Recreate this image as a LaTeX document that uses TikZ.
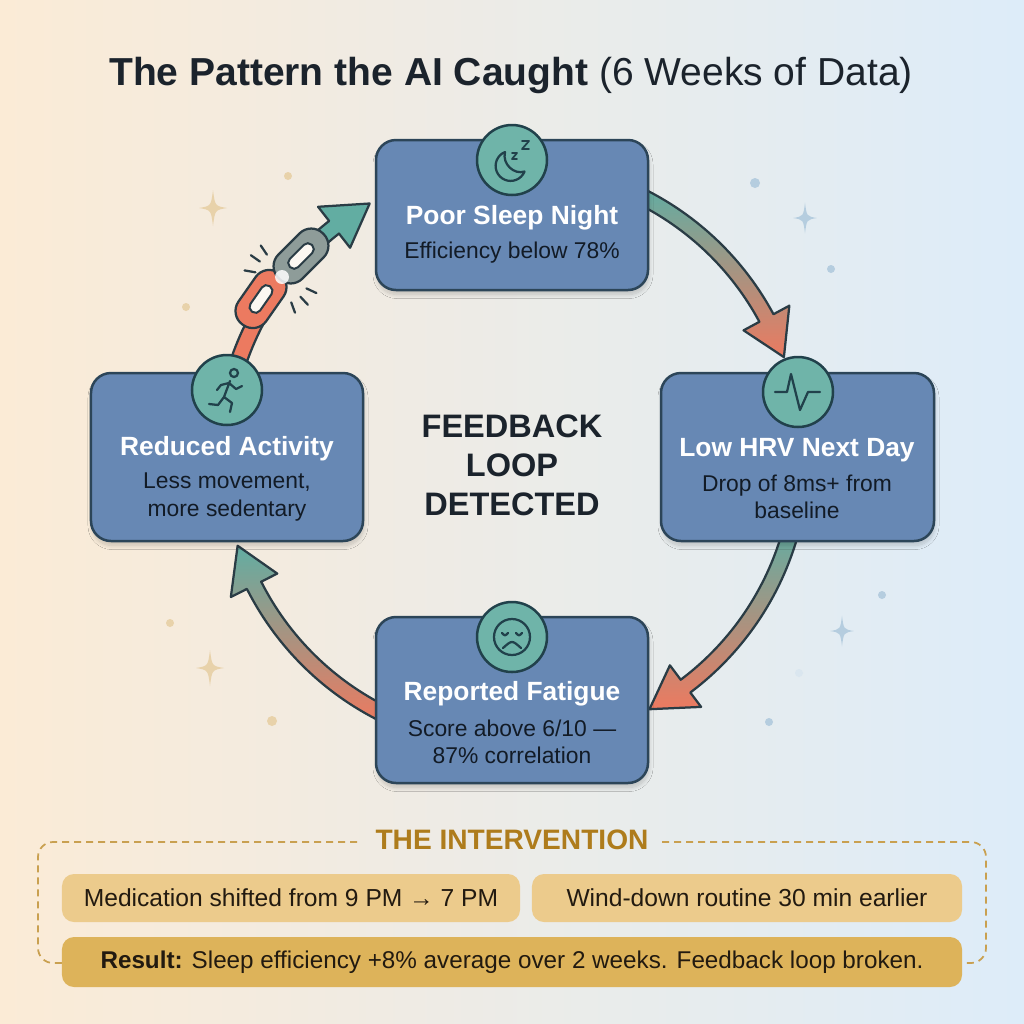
\documentclass[tikz,border=0pt]{standalone}
\usepackage{fontspec}
\setmainfont{Liberation Sans}
\usetikzlibrary{positioning,shadows.blur}

\definecolor{bgwarm}{HTML}{FBEBD6}
\definecolor{bgmid}{HTML}{F2F3EF}
\definecolor{bgcool}{HTML}{DDECF9}
\definecolor{inkdark}{HTML}{1B232C}
\definecolor{subink}{HTML}{121B26}
\definecolor{cardfill}{HTML}{6788B4}
\definecolor{cardline}{HTML}{2C4558}
\definecolor{badgefill}{HTML}{6FB4A9}
\definecolor{badgeline}{HTML}{21414B}
\definecolor{arrteal}{HTML}{62ADA2}
\definecolor{arrcoral}{HTML}{EC7A60}
\definecolor{arrline}{HTML}{2A3C45}
\definecolor{linkgrey}{HTML}{8E9C99}
\definecolor{sand}{HTML}{E8D2AA}
\definecolor{mist}{HTML}{B5CDDF}
\definecolor{goldhead}{HTML}{AE7C1C}
\definecolor{golddash}{HTML}{C9A050}
\definecolor{goldlight}{HTML}{ECCB8C}
\definecolor{golddeep}{HTML}{DDB35A}
\definecolor{goldink}{HTML}{221A10}

\tikzset{
  card/.style={draw=cardline, fill=cardfill, line width=0.5mm, rounded corners=4mm,
    blur shadow={shadow xshift=0.2mm, shadow yshift=-0.9mm, shadow blur radius=0.8mm, shadow blur steps=10, shadow opacity=18}},
  badge/.style={circle, draw=badgeline, fill=badgefill, line width=0.5mm, minimum size=14mm, inner sep=0pt},
  glyph/.style={draw=badgeline, line width=0.45mm, line cap=round, line join=round},
  cardtitle/.style={text=white, font=\bfseries\fontsize{15}{18}\selectfont},
  cardtext/.style={text=subink, font=\fontsize{13}{15.5}\selectfont, align=center},
  looparrow/.style={top color=arrteal, bottom color=arrcoral, draw=arrline, line width=0.45mm, line join=round},
  chainlink/.style={draw=arrline, line width=0.45mm, rounded corners=3.3mm, minimum width=12.6mm, minimum height=6.8mm},
  chainhole/.style={draw=arrline, fill=white!85!sand, line width=0.4mm, rounded corners=1.1mm, minimum width=6.2mm, minimum height=2.2mm},
  spark/.style={draw=arrline, line width=0.45mm, line cap=round},
  goldbox/.style={rounded corners=2.4mm, minimum height=9.6mm, text=goldink, font=\fontsize{14}{17}\selectfont},
  sparkle/.pic={\fill (0,-18) .. controls (2,-2) .. (14,0) .. controls (2,2) .. (0,18) .. controls (-2,2) .. (-14,0) .. controls (-2,-2) .. (0,-18) -- cycle;}
}

% curved arrow on the loop, angles #2 (start) and #3 (tip)
\newcommand{\ringarrow}[3][]{%
  \shadedraw[looparrow,#1] ([shift={(512,455)}]#2:297) arc[start angle=#2, end angle={#3-8.5}, radius=297]
    -- ([shift={(512,455)}]{#3-8.5}:315) -- ([shift={(512,455)}]#3:289)
    -- ([shift={(512,455)}]{#3-8.5}:263) -- ([shift={(512,455)}]{#3-8.5}:281)
    arc[start angle={#3-8.5}, end angle=#2, radius=281] -- cycle;}

\begin{document}
\begin{tikzpicture}[x=0.2mm,y=-0.2mm]
    \useasboundingbox (0,0) rectangle (1024,1024);
    \shade[left color=bgwarm, middle color=bgmid, right color=bgcool] (0,0) rectangle (1024,1024);

    \node[text=inkdark, font=\fontsize{22.2}{27}\selectfont] (title) at (511,75) {\textbf{The Pattern the AI Caught} (6 Weeks of Data)};

    % sparkles and dots
    \pic[color=sand] at (213,208) {sparkle};
    \pic[color=sand] at (210,668) {sparkle};
    \pic[color=mist, scale=0.85] at (805,218) {sparkle};
    \pic[color=mist, scale=0.85] at (842,631) {sparkle};
    \fill[sand] (288,176) circle (4) (186,307) circle (4) (170,623) circle (4) (272,721) circle (5);
    \fill[mist] (755,183) circle (5) (831,269) circle (4) (882,595) circle (4) (769,722) circle (4);
    \fill[mist!50] (799,673) circle (4);

    % loop arrows
    \ringarrow{-64}{-19.8}
    \ringarrow{15}{61.6}
    \ringarrow{116}{161.7}

    % broken chain
    \draw[arrline, line width=0.45mm, fill=arrcoral] ([shift={(512,455)}]-166:297) arc[start angle=-166, end angle=-149, radius=297]
        -- ([shift={(512,455)}]-149:281) arc[start angle=-149, end angle=-166, radius=281] -- cycle;
    \ringarrow[top color=arrteal, bottom color=arrteal]{-135}{-119.5}
    \node[chainlink, fill=arrcoral, rotate=55] (linkA) at (261,299) {};
    \node[chainhole, rotate=55] at (linkA.center) {};
    \node[chainlink, fill=linkgrey, rotate=45] (linkB) at (301,256) {};
    \node[chainhole, rotate=45] at (linkB.center) {};
    \fill[white, opacity=0.85] (282,277) circle (7);
    \foreach \a in {-124,-145,-170,25,47,70}
        \draw[spark] ([shift={(282,277)}]\a:27) -- ([shift={(282,277)}]\a:38);

    % step cards
    \node[card, minimum width=54.4mm, minimum height=30mm] (sleep) at (512,215) {};
    \node[card, minimum width=54.6mm, minimum height=33.6mm] (hrv) at (797.5,457) {};
    \node[card, minimum width=54.4mm, minimum height=33.2mm] (fatigue) at (512,700) {};
    \node[card, minimum width=54.4mm, minimum height=33.6mm] (activity) at (227,457) {};

    \node[badge] (sleepicon) at (512,160) {};
    \node[badge] (hrvicon) at (798,392) {};
    \node[badge] (fatigueicon) at (512,637) {};
    \node[badge] (activityicon) at (227,390) {};

    % moon and zZ
    \draw[glyph] (505,152) arc[start angle=-112, end angle=-338, radius=15]
        .. controls (514,175) and (502,164) .. (505,152) -- cycle;
    \draw[glyph, line width=0.35mm] (512,153) -- (517,153) -- (512,159) -- (517,159);
    \draw[glyph, line width=0.35mm] (522,141) -- (529,141) -- (522,149) -- (529,149);
    % pulse
    \draw[glyph] (775,392) -- (787,392) -- (791,374) -- (800,410) -- (808,392) -- (820,392);
    % sad face
    \draw[glyph] (512,637) circle (18);
    \draw[glyph] (502,633) .. controls (505,636) .. (508,633);
    \draw[glyph] (516,633) .. controls (519,636) .. (522,633);
    \draw[glyph] (503,648) .. controls (512,640) .. (521,648);
    % runner
    \draw[glyph] (234,373) circle (4);
    \draw[glyph] (230,381) -- (224,397) (229,383) -- (236,389) -- (242,386) (229,383) -- (221,385) -- (217,390)
        (224,397) -- (232,403) -- (230,412) (224,397) -- (218,405) -- (209,404);

    % card texts
    \node[cardtitle] (sleeptitle) at (512,218) {Poor Sleep Night};
    \node[cardtext] (sleeptext) at (512,253) {Efficiency below 78\%};
    \node[cardtitle] (hrvtitle) at (797,450) {Low HRV Next Day};
    \node[cardtext] (hrvtext) at (797,497) {Drop of 8ms+ from\\baseline};
    \node[cardtitle] (fatiguetitle) at (512,694) {Reported Fatigue};
    \node[cardtext] (fatiguetext) at (512,742) {Score above 6/10 —\\87\% correlation};
    \node[cardtitle] (activitytitle) at (227,449) {Reduced Activity};
    \node[cardtext] (activitytext) at (227,497) {Less movement,\\more sedentary};

    \node[text=inkdark, font=\bfseries\fontsize{18.5}{22.3}\selectfont, align=center] (loop) at (512,465) {FEEDBACK\\LOOP\\DETECTED};

    % intervention
    \node[text=goldhead, font=\bfseries\fontsize{16}{19}\selectfont] (intv) at (512,840) {THE INTERVENTION};
    \draw[golddash, line width=0.35mm, dash pattern=on 1.4mm off 1mm, rounded corners=3mm]
        ([xshift=1.5mm]intv.east |- 0,842) -- (986,842) -- (986,963) -- (38,963) -- (38,842) -- ([xshift=-1.5mm]intv.west |- 0,842);
    \node[goldbox, fill=goldlight, minimum width=91.6mm] (med) at (291,898) {Medication shifted from 9 PM → 7 PM};
    \node[goldbox, fill=goldlight, minimum width=86mm] (wind) at (747,898) {Wind-down routine 30 min earlier};
    \node[goldbox, fill=golddeep, minimum width=180mm, minimum height=10mm, font=\fontsize{13.8}{17}\selectfont] (result) at (512,962) {\textbf{Result:} Sleep efficiency +8\% average over 2 weeks. Feedback loop broken.};
\end{tikzpicture}
\end{document}
